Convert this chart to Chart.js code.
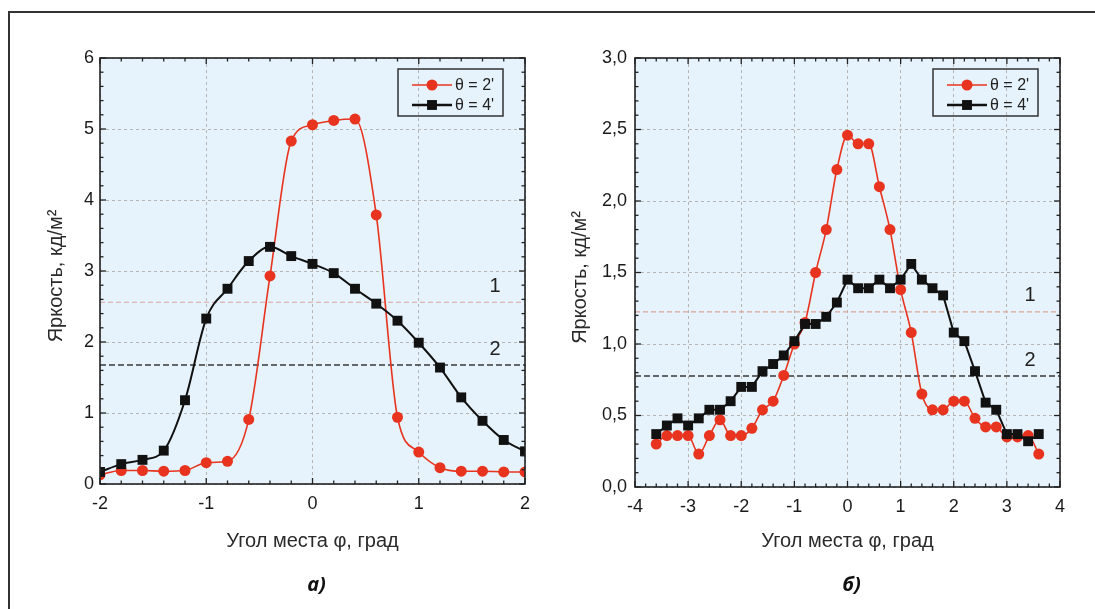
<!DOCTYPE html>
<html>
<head>
<meta charset="utf-8">
<script src="https://cdn.jsdelivr.net/npm/chart.js@4.4.1/dist/chart.umd.min.js"></script>
<style>
  body { margin: 0; background: #fff; width: 1095px; height: 609px; overflow: hidden; position: relative; }
  .frame { position: absolute; left: 8px; top: 11px; right: 0; bottom: 0; border-top: 2px solid #333; border-left: 2px solid #333; }
  .panel { position: absolute; top: 0; height: 609px; }
</style>
</head>
<body>
<div class="frame"></div>
<div class="panel" style="left:0;width:547px"><canvas id="chartA"></canvas></div>
<div class="panel" style="left:547px;width:548px"><canvas id="chartB"></canvas></div>
<script>
// panel a) : elevation angle vs brightness
const anglesA = [-2, -1.8, -1.6, -1.4, -1.2, -1, -0.8, -0.6, -0.4, -0.2, 0,
                 0.2, 0.4, 0.6, 0.8, 1, 1.2, 1.4, 1.6, 1.8, 2];
const brightA2 = [0.13, 0.19, 0.19, 0.18, 0.19, 0.30, 0.32, 0.91, 2.93, 4.83, 5.06,
                  5.12, 5.14, 3.79, 0.94, 0.45, 0.23, 0.18, 0.18, 0.17, 0.17];
const brightA4 = [0.17, 0.28, 0.34, 0.47, 1.18, 2.33, 2.75, 3.14, 3.34, 3.21, 3.10,
                  2.97, 2.75, 2.54, 2.30, 1.99, 1.64, 1.22, 0.89, 0.62, 0.46];
const levelsA = [2.56, 1.675];

// panel б)
const anglesB = [-3.6, -3.4, -3.2, -3, -2.8, -2.6, -2.4, -2.2, -2, -1.8, -1.6, -1.4, -1.2,
                 -1, -0.8, -0.6, -0.4, -0.2, 0, 0.2, 0.4, 0.6, 0.8, 1, 1.2, 1.4,
                 1.6, 1.8, 2, 2.2, 2.4, 2.6, 2.8, 3, 3.2, 3.4, 3.6];
const brightB2 = [0.30, 0.36, 0.36, 0.36, 0.23, 0.36, 0.47, 0.36, 0.36, 0.41, 0.54, 0.60, 0.78,
                  1.00, 1.15, 1.50, 1.80, 2.22, 2.46, 2.40, 2.40, 2.10, 1.80, 1.38, 1.08, 0.65,
                  0.54, 0.54, 0.60, 0.60, 0.48, 0.42, 0.42, 0.35, 0.35, 0.36, 0.23];
const brightB4 = [0.37, 0.43, 0.48, 0.43, 0.48, 0.54, 0.54, 0.60, 0.70, 0.70, 0.81, 0.86, 0.92,
                  1.02, 1.14, 1.14, 1.19, 1.29, 1.45, 1.39, 1.39, 1.45, 1.39, 1.45, 1.56, 1.45,
                  1.39, 1.34, 1.08, 1.02, 0.81, 0.59, 0.54, 0.37, 0.37, 0.32, 0.37];
const levelsB = [1.225, 0.776];

const seriesLabels = ["θ = 2'", "θ = 4'"];
const levelLabels = ['1', '2'];
const xTitle = 'Угол места φ, град';
const yTitle = 'Яркость, кд/м²';

const RED = '#e8341f';
const BLACK = '#111';
const FONT = "'Liberation Sans', Arial, sans-serif";

function toPoints(xs, ys) {
    return xs.map((x, i) => ({ x: x, y: ys[i] }));
}

function buildPanel(id, cfg) {
    const decor = {
        id: 'decor',
        beforeDraw(chart) {
            const a = chart.chartArea, ctx = chart.ctx;
            ctx.save();
            ctx.fillStyle = '#e6f3fc';
            ctx.fillRect(a.left, a.top, a.right - a.left, a.bottom - a.top);
            ctx.restore();
        },
        afterDraw(chart) {
            const a = chart.chartArea, ctx = chart.ctx;
            const sx = chart.scales.x, sy = chart.scales.y;
            ctx.save();

            // inward tick marks on all four sides
            ctx.strokeStyle = '#222';
            ctx.lineWidth = 1.3;
            function seg(x1, y1, x2, y2) {
                ctx.beginPath(); ctx.moveTo(x1, y1); ctx.lineTo(x2, y2); ctx.stroke();
            }
            const nx = Math.round((cfg.xMax - cfg.xMin) / cfg.xMinor);
            for (let i = 0; i <= nx; i++) {
                const v = cfg.xMin + i * cfg.xMinor;
                const px = sx.getPixelForValue(v);
                const len = Math.abs(v / cfg.xStep - Math.round(v / cfg.xStep)) < 1e-6 ? 6 : 3.5;
                seg(px, a.bottom, px, a.bottom - len);
                seg(px, a.top, px, a.top + len);
            }
            const ny = Math.round((cfg.yMax - cfg.yMin) / cfg.yMinor);
            for (let i = 0; i <= ny; i++) {
                const v = cfg.yMin + i * cfg.yMinor;
                const py = sy.getPixelForValue(v);
                const len = Math.abs(v / cfg.yStep - Math.round(v / cfg.yStep)) < 1e-6 ? 6 : 3.5;
                seg(a.left, py, a.left + len, py);
                seg(a.right, py, a.right - len, py);
            }

            // plot frame
            ctx.lineWidth = 1.6;
            ctx.strokeRect(a.left, a.top, a.right - a.left, a.bottom - a.top);

            // level labels 1 and 2
            ctx.fillStyle = '#222';
            ctx.font = '20px ' + FONT;
            ctx.textAlign = 'center';
            ctx.textBaseline = 'middle';
            cfg.levels.forEach((lv, i) => {
                ctx.fillText(levelLabels[i], a.right - 30, sy.getPixelForValue(lv) - 16);
            });

            // legend box
            const bx = a.right - 127, by = a.top + 11;
            ctx.lineWidth = 1.5;
            ctx.strokeStyle = '#333';
            ctx.strokeRect(bx, by, 105, 47);
            [[RED, 1.5, 'circle', 5.5], [BLACK, 2.5, 'rect', 7]].forEach((s, i) => {
                const ly = by + 16 + i * 20;
                ctx.strokeStyle = s[0];
                ctx.lineWidth = s[1];
                seg(bx + 14, ly, bx + 54, ly);
                ctx.fillStyle = s[0];
                Chart.helpers.drawPoint(ctx, { pointStyle: s[2], radius: s[3], rotation: 0, borderWidth: 0 }, bx + 34, ly);
                ctx.fillStyle = '#222';
                ctx.font = '16px ' + FONT;
                ctx.textAlign = 'left';
                ctx.fillText(seriesLabels[i], bx + 57, ly + 1);
            });

            // axis titles and panel letter
            ctx.fillStyle = '#2a2a2a';
            ctx.font = '20px ' + FONT;
            ctx.textAlign = 'center';
            const cx = (a.left + a.right) / 2;
            ctx.fillText(xTitle, cx, 541);
            ctx.save();
            ctx.translate(cfg.yTitleX, (a.top + a.bottom) / 2 + 5);
            ctx.rotate(-Math.PI / 2);
            ctx.fillText(yTitle, 0, 0);
            ctx.restore();
            ctx.fillStyle = '#111';
            ctx.font = 'italic bold 20px "Open Sans", sans-serif';
            ctx.fillText(cfg.letter, cx + 4, 585);
            ctx.restore();
        }
    };

    const levelSets = cfg.levels.map((lv, i) => ({
        data: [{ x: cfg.xMin, y: lv }, { x: cfg.xMax, y: lv }],
        borderColor: i === 0 ? '#dca595' : '#3a3a3a',
        borderWidth: i === 0 ? 1.2 : 1.5,
        borderDash: i === 0 ? [5, 3] : [6, 3],
        pointRadius: 0,
        order: 3
    }));

    return new Chart(document.getElementById(id), {
        type: 'line',
        data: {
            datasets: [
                {
                    label: seriesLabels[1],
                    data: toPoints(cfg.angles, cfg.black),
                    borderColor: BLACK,
                    backgroundColor: BLACK,
                    borderWidth: 2,
                    pointStyle: 'rect',
                    pointRadius: 7,
                    pointBorderWidth: 0,
                    cubicInterpolationMode: cfg.smooth ? 'monotone' : 'default',
                    tension: 0,
                    order: 1
                },
                {
                    label: seriesLabels[0],
                    data: toPoints(cfg.angles, cfg.red),
                    borderColor: RED,
                    backgroundColor: RED,
                    borderWidth: 1.6,
                    pointStyle: 'circle',
                    pointRadius: 5.5,
                    pointBorderWidth: 0,
                    cubicInterpolationMode: 'monotone',
                    order: 2
                }
            ].concat(levelSets)
        },
        options: {
            responsive: true,
            maintainAspectRatio: false,
            animation: false,
            layout: { padding: cfg.padding },
            plugins: { legend: { display: false }, tooltip: { enabled: false } },
            scales: {
                x: {
                    type: 'linear',
                    min: cfg.xMin, max: cfg.xMax,
                    afterFit: s => { s.height = 40; },
                    ticks: { stepSize: cfg.xStep, padding: 9, color: '#1a1a1a', font: { family: FONT, size: 18 } },
                    grid: { color: '#b5b5b5', lineWidth: 1, drawTicks: false },
                    border: { display: false, dash: [3, 3] }
                },
                y: {
                    min: cfg.yMin, max: cfg.yMax,
                    afterFit: s => { s.width = cfg.yWidth; },
                    ticks: { stepSize: cfg.yStep, padding: cfg.yPad, color: '#1a1a1a', font: { family: FONT, size: 18 },
                             callback: cfg.fmt },
                    grid: { color: '#b5b5b5', lineWidth: 1, drawTicks: false },
                    border: { display: false, dash: [3, 3] }
                }
            }
        },
        plugins: [decor]
    });
}

buildPanel('chartA', {
    angles: anglesA, red: brightA2, black: brightA4, levels: levelsA, smooth: true,
    xMin: -2, xMax: 2, xStep: 1, xMinor: 0.2,
    yMin: 0, yMax: 6, yStep: 1, yMinor: 0.2,
    fmt: v => String(v),
    yWidth: 100, yPad: 6, yTitleX: 56, letter: 'а)',
    padding: { left: 0, top: 58, right: 22, bottom: 85 }
});

buildPanel('chartB', {
    angles: anglesB, red: brightB2, black: brightB4, levels: levelsB, smooth: false,
    xMin: -4, xMax: 4, xStep: 1, xMinor: 0.2,
    yMin: 0, yMax: 3, yStep: 0.5, yMinor: 0.1,
    fmt: v => v.toFixed(1).replace('.', ','),
    yWidth: 88, yPad: 8, yTitleX: 33, letter: 'б)',
    padding: { left: 0, top: 58, right: 35, bottom: 82 }
});
</script>
</body>
</html>
